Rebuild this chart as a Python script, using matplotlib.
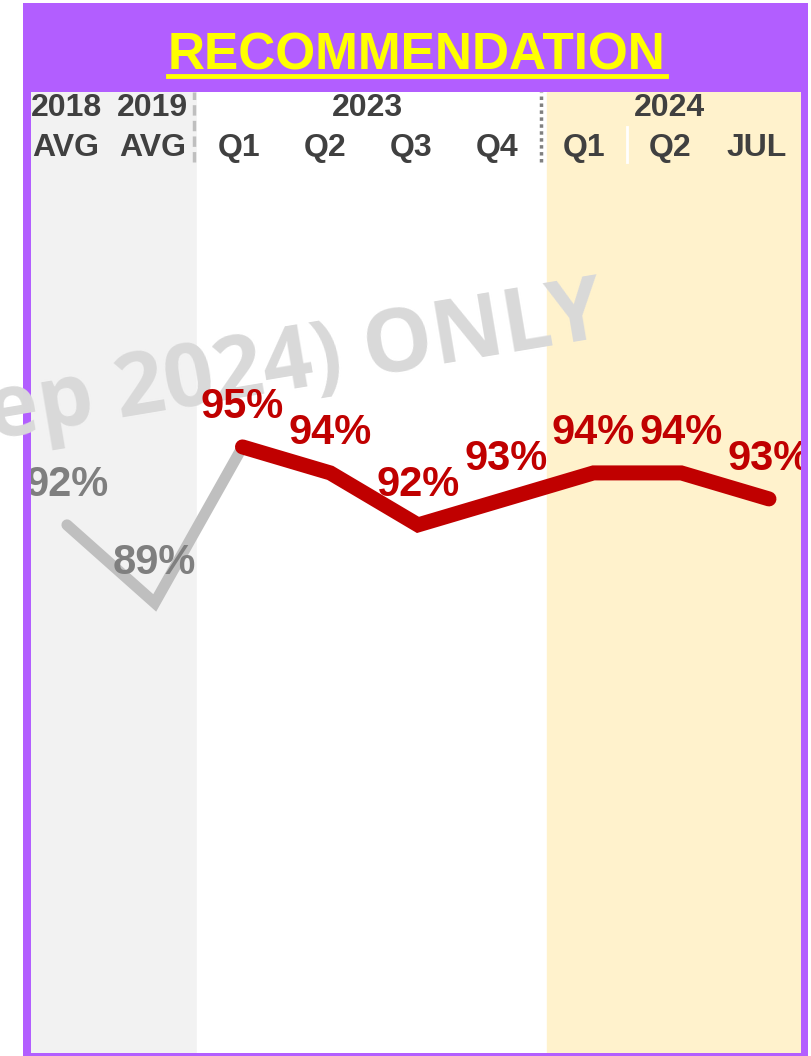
import matplotlib.pyplot as plt
from matplotlib.patches import Rectangle
from matplotlib.lines import Line2D

# data
years = ['2018', '2019', '2023', '2024']
periods = ['AVG', 'AVG', 'Q1', 'Q2', 'Q3', 'Q4', 'Q1', 'Q2', 'JUL']
hist_idx = [0, 1, 2]
hist_vals = [92, 89, 95]
recent_idx = [2, 3, 4, 5, 6, 7, 8]
recent_vals = [95, 94, 92, 93, 94, 94, 93]

purple = '#B25EFF'
red = '#C00000'
dark = '#404040'

plt.rcParams['font.family'] = ['Liberation Sans', 'DejaVu Sans']

fig = plt.figure(figsize=(8.11, 10.56), dpi=100)

# purple frame behind the panel
fig.patches.append(Rectangle((23 / 811, 0), 785 / 811, 1 - 3 / 1056,
                             transform=fig.transFigure, facecolor=purple,
                             edgecolor='none', zorder=-5))

ax = fig.add_axes([31 / 811, 3 / 1056, 770 / 811, 961 / 1056])
ax.set_xlim(-0.41, 8.365)
ax.set_ylim(71.69, 108.65)
ax.axis('off')

# background bands
ax.axvspan(-0.41, 1.48, color='#F2F2F2', zorder=0)
ax.axvspan(1.48, 5.47, color='white', zorder=0)
ax.axvspan(5.47, 8.365, color='#FFF2CC', zorder=0)

# header labels (header grid is a bit tighter than the data points)
xt = ax.get_xaxis_transform()
hx = [k * 0.983 - 0.01 for k in range(len(periods))]
for x, p in zip(hx, periods):
    ax.text(x, 0.9417, p, transform=xt, ha='center', va='center',
            fontsize=23, fontweight='bold', color=dark)
for x, y in zip([hx[0], hx[1], 3.42, 6.87], years):
    ax.text(x, 0.9834, y, transform=xt, ha='center', va='center',
            fontsize=23, fontweight='bold', color=dark)

# header dividers
ax.plot([1.45, 1.45], [0.927, 1.0], transform=xt, color='#BFBFBF', lw=2.5,
        linestyle=(0, (3, 1.5)), clip_on=False, zorder=2)
ax.plot([5.40, 5.40], [0.927, 1.0], transform=xt, color='#808080', lw=2.5,
        linestyle=(0, (1, 1)), clip_on=False, zorder=2)
ax.plot([6.38, 6.38], [0.927, 0.9636], transform=xt, color='white', lw=2,
        zorder=2)

# watermark (only this part of it shows in the picture)
ax.text(607 / 811, 1 - 336 / 1056, 'ep 2024) ONLY', transform=fig.transFigure,
        ha='right', va='baseline', rotation=9.5, rotation_mode='anchor',
        fontsize=63, fontweight='bold', family=['Open Sans', 'DejaVu Sans'],
        color='#D9D9D9', clip_on=False, zorder=1.5)

# lines
ax.plot(hist_idx, hist_vals, color='#BFBFBF', lw=8, solid_capstyle='round',
        solid_joinstyle='miter', zorder=2)
ax.plot(recent_idx, recent_vals, color=red, lw=10.8, solid_capstyle='round',
        solid_joinstyle='miter', zorder=3)

# value labels
for i, v in zip(hist_idx[:2], hist_vals[:2]):
    ax.annotate(f'{v}%', (i, v), xytext=(0, 40), textcoords='offset pixels',
                ha='center', va='center', fontsize=30, fontweight='bold',
                color='#7F7F7F', zorder=4, annotation_clip=False, clip_on=True)
for i, v in zip(recent_idx, recent_vals):
    ax.annotate(f'{v}%', (i, v), xytext=(0, 40), textcoords='offset pixels',
                ha='center', va='center', fontsize=30, fontweight='bold',
                color=red, zorder=4, annotation_clip=False, clip_on=True)

# title with underline
title = fig.text(417 / 811, 1 - 69 / 1056, 'RECOMMENDATION', ha='center',
                 va='baseline', fontsize=37, fontweight='bold', color='#FFFF00')
fig.canvas.draw()
bb = title.get_window_extent().transformed(fig.transFigure.inverted())
fig.add_artist(Line2D([bb.x0, bb.x1], [1 - 76 / 1056] * 2,
                      transform=fig.transFigure, color='#FFFF00', lw=3.5))

fig.savefig('out.png', dpi=100)
